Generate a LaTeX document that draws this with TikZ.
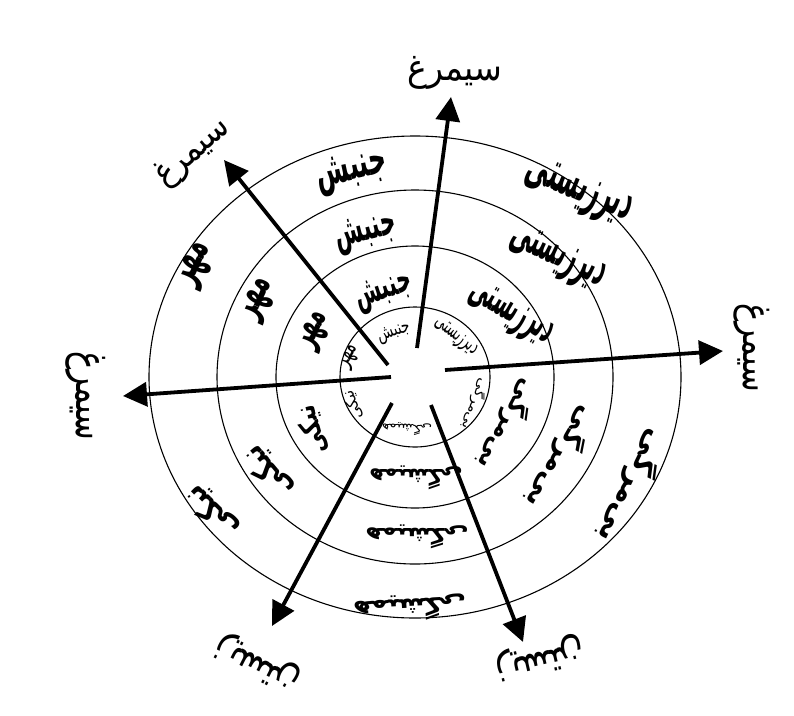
\documentclass[tikz,border=0pt]{standalone}
\usepackage{fontspec}
\usepackage{graphicx}
\usetikzlibrary{arrows.meta}
\TeXXeTstate=1
\newfontfamily\fa[Script=Arabic]{DejaVu Sans}
\newcommand\rw[3]{\resizebox*{#1pt}{#2pt}{\fa\beginR #3\endR}}
\newcommand\bw[3]{\resizebox*{#1pt}{#2pt}{\fa\bfseries\beginR #3\endR}}
\begin{document}
\begin{tikzpicture}[x=1pt,y=-1pt,
  ring/.style={line width=1.1pt},
  arr/.style={line width=3.8pt,-{Triangle[length=24pt,width=24pt]}},
  wd/.style={inner sep=0pt}]
\useasboundingbox (0,0) rectangle (794,715);
\fill[white] (0,0) rectangle (794,715);
\coordinate (c) at (415,377);
\draw[ring] (c) ellipse [x radius=75pt, y radius=70pt];
\draw[ring] (c) ellipse [x radius=139pt, y radius=131pt];
\draw[ring] (c) ellipse [x radius=198pt, y radius=187pt];
\draw[ring] (c) ellipse [x radius=266pt, y radius=241pt];
% arrows
\coordinate (s1) at (417,348); \coordinate (t1) at (451,97);
\coordinate (s2) at (388,365); \coordinate (t2) at (224,160);
\coordinate (s3) at (445,370); \coordinate (t3) at (723,351);
\coordinate (s4) at (391,377); \coordinate (t4) at (123,396);
\coordinate (s5) at (392,403); \coordinate (t5) at (272,626);
\coordinate (s6) at (431,405); \coordinate (t6) at (523,642);
\foreach \i in {1,...,6} {\draw[arr] (s\i) -- (t\i);}
% arrow labels
\node[wd] (l1) at (455,73) {\rw{95}{33}{سیمرغ}};
\node[wd,rotate=40] (l2) at (193,153) {\rw{88}{32}{سیمرغ}};
\node[wd,rotate=-90] (l3) at (752,348) {\rw{88}{36}{سیمرغ}};
\node[wd,rotate=-90] (l4) at (86,396) {\rw{88}{40}{سیمرغ}};
\node[wd,rotate=153] (l5) at (258,663) {\rw{90}{32}{زیستن}};
\node[wd,rotate=-167] (l6) at (540,658) {\rw{90}{32}{زیستن}};
% sector words: jonbesh
\node[wd,rotate=12] (j1) at (352,172) {\bw{72}{38}{جنبش}};
\node[wd,rotate=14] (j2) at (366,233) {\bw{62}{35}{جنبش}};
\node[wd,rotate=18] (j3) at (384,292) {\bw{58}{32}{جنبش}};
\node[wd,rotate=20] (j4) at (394,333) {\rw{34}{16}{جنبش}};
% dirzisti
\node[wd,rotate=-22] (d1) at (578,193) {\bw{112}{40}{دیرزیستی}};
\node[wd,rotate=-25] (d2) at (557,259) {\bw{102}{38}{دیرزیستی}};
\node[wd,rotate=-30] (d3) at (510,315) {\bw{92}{35}{دیرزیستی}};
\node[wd,rotate=-38] (d4) at (456,337) {\rw{50}{17}{دیرزیستی}};
% right-lower
\node[wd,rotate=-116] (x1) at (633,487) {\bw{122}{34}{بی‌مرگی}};
\node[wd,rotate=-120] (x2) at (562,458) {\bw{112}{32}{بی‌مرگی}};
\node[wd,rotate=-118] (x3) at (508,425) {\bw{98}{30}{بی‌مرگی}};
\node[wd,rotate=-110] (x4) at (475,404) {\rw{54}{15}{بی‌مرگی}};
% bottom
\node[wd,rotate=183] (h1) at (410,608) {\bw{113}{26}{همیشگی}};
\node[wd,rotate=180] (h2) at (417,537) {\bw{103}{24}{همیشگی}};
\node[wd,rotate=180] (h3) at (416,478) {\bw{93}{24}{همیشگی}};
\node[wd,rotate=178] (h4) at (407,429) {\rw{50}{12}{همیشگی}};
% lower-left
\node[wd,rotate=135] (y1) at (212,512) {\bw{62}{30}{نیکی}};
\node[wd,rotate=130] (y2) at (268,472) {\bw{58}{30}{نیکی}};
\node[wd,rotate=105] (y3) at (312,430) {\bw{50}{26}{نیکی}};
\node[wd,rotate=110] (y4) at (353,405) {\rw{30}{14}{نیکی}};
% mehr
\node[wd,rotate=65] (m1) at (197,265) {\bw{44}{30}{مهر}};
\node[wd,rotate=65] (m2) at (260,300) {\bw{42}{28}{مهر}};
\node[wd,rotate=65] (m3) at (316,331) {\bw{38}{26}{مهر}};
\node[wd,rotate=65] (m4) at (351,357) {\rw{24}{15}{مهر}};
\end{tikzpicture}
\end{document}
